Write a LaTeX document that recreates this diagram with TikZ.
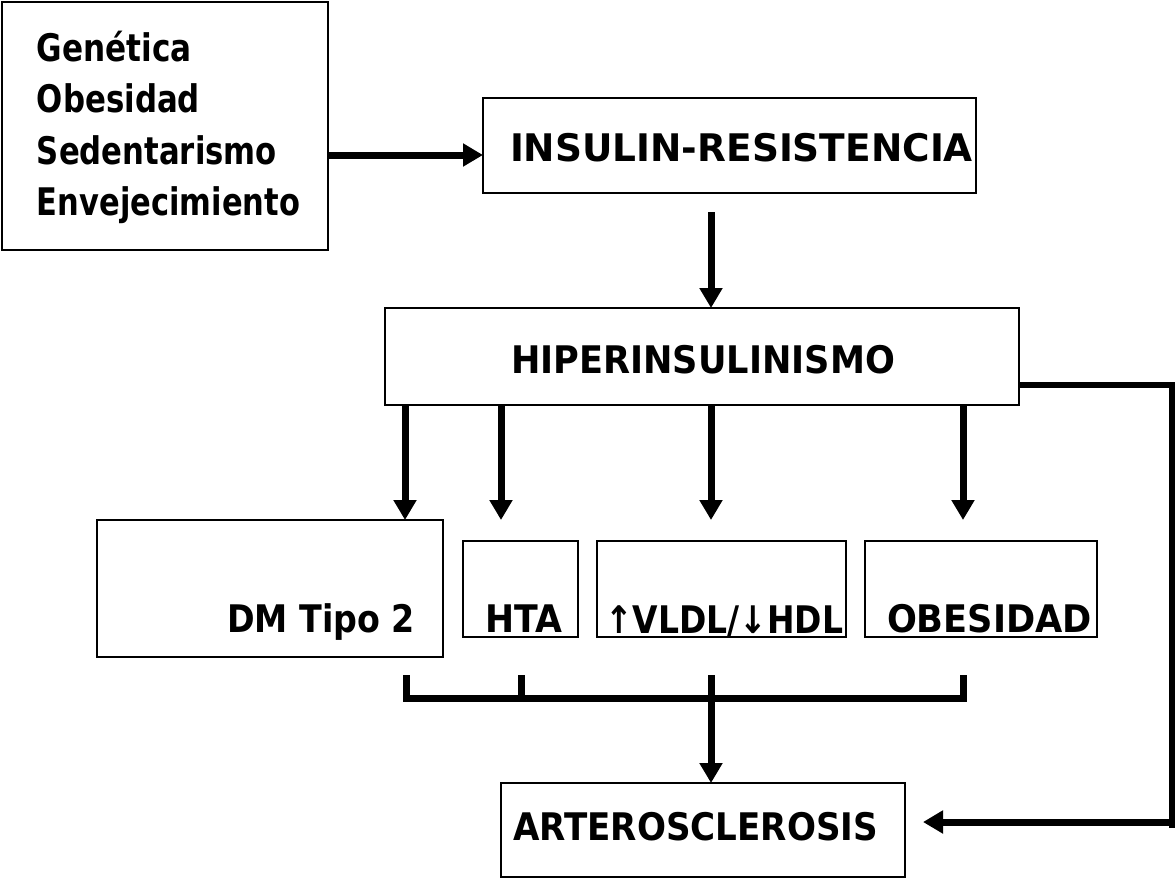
\documentclass[tikz,border=0pt]{standalone}
\usepackage{fontspec}
\setmainfont{DejaVu Sans}
\usepackage{graphicx}
\usetikzlibrary{arrows.meta}
\newcommand{\tw}[2]{\resizebox{#1}{\height}{#2}}
\begin{document}
\begin{tikzpicture}[x=1pt,y=-1pt,
  box/.style={draw=black,line width=2.3pt,rectangle,inner sep=0pt,outer sep=0pt},
  txt/.style={anchor=base west,inner sep=0pt,outer sep=0pt,font=\fontsize{38}{44}\selectfont\bfseries},
  conn/.style={line width=7pt},
  arr/.style={line width=7pt,-{Triangle[length=20pt,width=22pt]}}]
\useasboundingbox (0,0) rectangle (1175,879);
% boxes
\node[box,minimum width=326pt,minimum height=248pt] (src) at (165,126) {};
\node[box,minimum width=493pt,minimum height=95pt] (ins) at (729.5,145.5) {};
\node[box,minimum width=634pt,minimum height=97pt] (hip) at (702,356.5) {};
\node[box,minimum width=346pt,minimum height=137pt] (dm) at (270,588.5) {};
\node[box,minimum width=115pt,minimum height=96pt] (hta) at (520.5,589) {};
\node[box,minimum width=249pt,minimum height=96pt] (vldl) at (721.5,589) {};
\node[box,minimum width=232pt,minimum height=96pt] (obe) at (981,589) {};
\node[box,minimum width=404pt,minimum height=94pt] (art) at (703,830) {};
% texts
\node[txt] (t1) at (37,61) {\tw{155pt}{Genética}};
\node[txt] (t2) at (37,112) {\tw{163pt}{Obesidad}};
\node[txt] (t3) at (37,164) {\tw{240pt}{Sedentarismo}};
\node[txt] (t4) at (37,215) {\tw{263pt}{Envejecimiento}};
\node[txt] (tins) at (510,161) {\tw{463pt}{INSULIN-RESISTENCIA}};
\node[txt] (thip) at (511,373) {\tw{384pt}{HIPERINSULINISMO}};
\node[txt] (tdm) at (227,632) {\tw{188pt}{DM Tipo 2}};
\node[txt] (thta) at (485,632) {\tw{77pt}{HTA}};
\node[txt] (tvldl) at (605,633) {\tw{238pt}{↑VLDL/↓HDL}};
\node[txt] (tobe) at (887,632) {\tw{205pt}{OBESIDAD}};
\node[txt] (tart) at (513,840) {\tw{365pt}{ARTEROSCLEROSIS}};
% helper coordinates
\coordinate (c1) at (711,212);
\coordinate (h1) at (405,405);
\coordinate (h2) at (501,405);
\coordinate (h3) at (711,405);
\coordinate (h4) at (963,405);
\coordinate (e2) at (501,520);
\coordinate (e3) at (711,520);
\coordinate (e4) at (963,520);
\coordinate (b1) at (406,675);
\coordinate (b2) at (521,675);
\coordinate (b3) at (711,675);
\coordinate (b4) at (963,675);
\coordinate (r1) at (1172,385);
\coordinate (r2) at (1172,828);
\coordinate (r3) at (1172,822);
\coordinate (r4) at (923,822);
% connectors
\draw[arr] (src.east |- 0,155) -- (ins.west |- 0,155);
\draw[arr] (c1) -- (c1 |- hip.north);
\draw[arr] (h1) -- (h1 |- dm.north);
\draw[arr] (h2) -- (e2);
\draw[arr] (h3) -- (e3);
\draw[arr] (h4) -- (e4);
\draw[conn] (b1) -- (b1 |- 0,698) -- (b4 |- 0,698) -- (b4);
\draw[conn] (b2) -- (b2 |- 0,698);
\draw[arr] (b3) -- (b3 |- art.north);
\draw[conn,line width=6pt] (hip.east |- r1) -- (r1) -- (r2);
\draw[arr] (r3) -- (r4);
\end{tikzpicture}
\end{document}
